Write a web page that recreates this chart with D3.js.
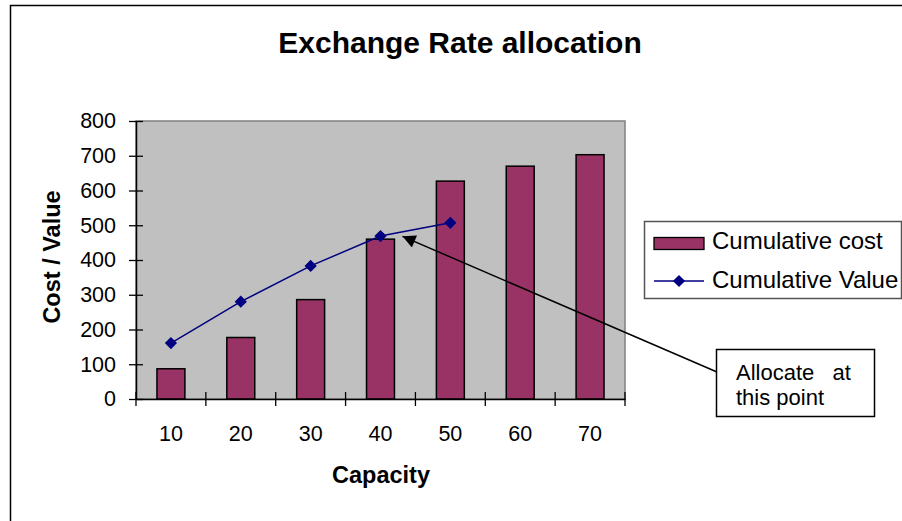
<!DOCTYPE html>
<html>
<head>
<meta charset="utf-8">
<script src="https://cdn.jsdelivr.net/npm/d3@7"></script>
<style>
  body { margin: 0; background: #fff; }
  text { font-family: "Liberation Sans", Arial, sans-serif; fill: #000; }
</style>
</head>
<body>
<script>
var width = 902;
var height = 521;

// chart data
var capacity = [10, 20, 30, 40, 50, 60, 70];
var cumulativeCost = [87, 177, 286, 460, 627, 670, 703];
var cumulativeValue = [161, 280, 383, 469, 507];
var yTicks = [0, 100, 200, 300, 400, 500, 600, 700, 800];

var plot = { left: 136, right: 625, top: 121, bottom: 399 };

var svg = d3.select("body").append("svg")
    .attr("width", width)
    .attr("height", height);

// outer chart border (runs off the right and bottom edge)
svg.append("rect")
    .attr("x", 10.5).attr("y", 5.5)
    .attr("width", 1000).attr("height", 1000)
    .style("fill", "#fff")
    .style("stroke", "#000")
    .style("stroke-width", 1.5);

var x = d3.scaleBand()
    .domain(capacity)
    .range([plot.left, plot.right])
    .paddingInner(0).paddingOuter(0);

var y = d3.scaleLinear()
    .domain([0, 800])
    .range([plot.bottom, plot.top]);

// plot area
svg.append("rect")
    .attr("x", plot.left).attr("y", plot.top)
    .attr("width", plot.right - plot.left)
    .attr("height", plot.bottom - plot.top)
    .style("fill", "#c0c0c0")
    .style("stroke", "#808080")
    .style("stroke-width", 1.5);

// bars
var barW = x.step() / 2.5;
svg.selectAll(".bar")
    .data(cumulativeCost)
  .enter().append("rect")
    .attr("class", "bar")
    .attr("x", function (d, i) { return x(capacity[i]) + (x.step() - barW) / 2; })
    .attr("width", barW)
    .attr("y", function (d) { return y(d); })
    .attr("height", function (d) { return y(0) - y(d); })
    .style("fill", "#993366")
    .style("stroke", "#000")
    .style("stroke-width", 1.5);

// y axis
var yAxis = svg.append("g")
    .attr("transform", "translate(" + plot.left + ",0)")
    .call(d3.axisLeft(y).tickValues(yTicks).tickSize(7).tickPadding(13).tickSizeOuter(0));
yAxis.selectAll(".tick line").attr("x1", 7).style("stroke-width", 1.3);
yAxis.select(".domain").style("stroke-width", 1.5);
yAxis.selectAll("text")
    .style("font-size", "21.5px")
    .style("font-family", "Liberation Sans, Arial, sans-serif");

// x axis: labels at category centres
var xAxis = svg.append("g")
    .attr("transform", "translate(0," + plot.bottom + ")")
    .call(d3.axisBottom(x).tickSize(0).tickPadding(27).tickSizeOuter(0));
xAxis.select(".domain").style("stroke-width", 1.5);
xAxis.selectAll("text")
    .style("font-size", "21.5px")
    .style("font-family", "Liberation Sans, Arial, sans-serif");

// x axis: cross ticks at category boundaries
svg.selectAll(".xtick")
    .data(d3.range(capacity.length + 1))
  .enter().append("line")
    .attr("class", "xtick")
    .attr("x1", function (i) { return plot.left + i * x.step(); })
    .attr("x2", function (i) { return plot.left + i * x.step(); })
    .attr("y1", plot.bottom - 7)
    .attr("y2", plot.bottom + 7)
    .style("stroke", "#000")
    .style("stroke-width", 1.3);

// value line
var cx = function (d, i) { return x(capacity[i]) + x.step() / 2; };
var line = d3.line()
    .x(cx)
    .y(function (d) { return y(d); });

svg.append("path")
    .datum(cumulativeValue)
    .attr("d", line)
    .style("fill", "none")
    .style("stroke", "#000080")
    .style("stroke-width", 1.5);

var diamond = d3.symbol().type(d3.symbolDiamond2).size(95);
svg.selectAll(".pt")
    .data(cumulativeValue)
  .enter().append("path")
    .attr("class", "pt")
    .attr("d", diamond)
    .attr("transform", function (d, i) { return "translate(" + cx(d, i) + "," + y(d) + ")"; })
    .style("fill", "#000080");

// title and axis titles
svg.append("text")
    .attr("x", 460).attr("y", 53)
    .attr("text-anchor", "middle")
    .style("font-size", "30px").style("font-weight", "bold")
    .text("Exchange Rate allocation");

svg.append("text")
    .attr("x", 381).attr("y", 483)
    .attr("text-anchor", "middle")
    .style("font-size", "23.5px").style("font-weight", "bold")
    .text("Capacity");

svg.append("text")
    .attr("transform", "translate(60,257) rotate(-90)")
    .attr("text-anchor", "middle")
    .style("font-size", "23.5px").style("font-weight", "bold")
    .text("Cost / Value");

// legend
var legend = svg.append("g");
legend.append("rect")
    .attr("x", 644.5).attr("y", 221.5)
    .attr("width", 257).attr("height", 77)
    .style("fill", "#fff")
    .style("stroke", "#555")
    .style("stroke-width", 1.5);
legend.append("rect")
    .attr("x", 654).attr("y", 237.5)
    .attr("width", 50).attr("height", 12)
    .style("fill", "#993366")
    .style("stroke", "#000")
    .style("stroke-width", 1.3);
legend.append("text")
    .attr("x", 712).attr("y", 249)
    .style("font-size", "24px")
    .text("Cumulative cost");
legend.append("line")
    .attr("x1", 654).attr("x2", 704)
    .attr("y1", 281).attr("y2", 281)
    .style("stroke", "#000080")
    .style("stroke-width", 1.5);
legend.append("path")
    .attr("d", diamond)
    .attr("transform", "translate(679,281)")
    .style("fill", "#000080");
legend.append("text")
    .attr("x", 712).attr("y", 288)
    .style("font-size", "24px")
    .text("Cumulative Value");

// annotation
svg.append("defs").append("marker")
    .attr("id", "arrow")
    .attr("viewBox", "0 0 10 10")
    .attr("refX", 10).attr("refY", 5)
    .attr("markerWidth", 16).attr("markerHeight", 13)
    .attr("markerUnits", "userSpaceOnUse")
    .attr("orient", "auto")
  .append("path")
    .attr("d", "M0,0 L10,5 L0,10 z")
    .style("fill", "#000");

var tipX = x(40) + x.step() / 2 + 22;
var tipY = y(468);
svg.append("line")
    .attr("x1", 717).attr("y1", 372)
    .attr("x2", tipX).attr("y2", tipY)
    .style("stroke", "#000")
    .style("stroke-width", 1.5)
    .attr("marker-end", "url(#arrow)");

svg.append("rect")
    .attr("x", 716.5).attr("y", 349.5)
    .attr("width", 158).attr("height", 67)
    .style("fill", "#fff")
    .style("stroke", "#000")
    .style("stroke-width", 1.5);
svg.append("text")
    .attr("x", 736).attr("y", 380)
    .style("font-size", "22px")
    .style("white-space", "pre")
    .text("Allocate   at");
svg.append("text")
    .attr("x", 736).attr("y", 405)
    .style("font-size", "22px")
    .text("this point");
</script>
</body>
</html>
